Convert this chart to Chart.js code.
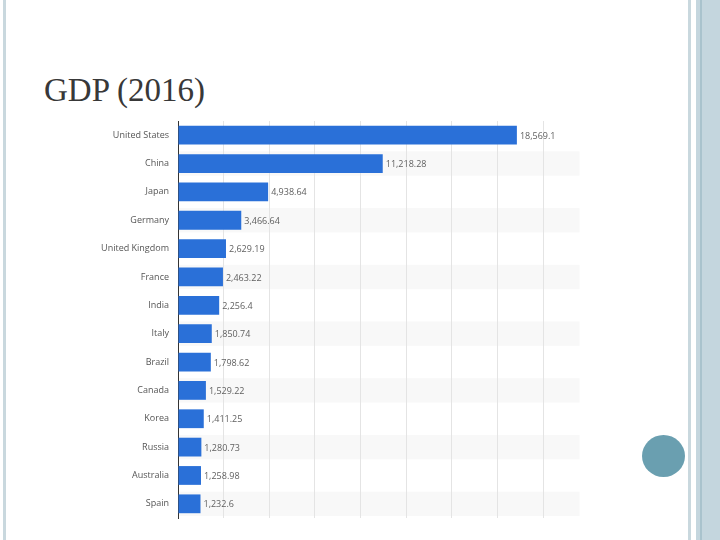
<!DOCTYPE html>
<html>
<head>
<meta charset="utf-8">
<script src="https://cdn.jsdelivr.net/npm/chart.js@4/dist/chart.umd.min.js"></script>
<style>
  body { margin: 0; background: #fff; }
  #slide { position: relative; width: 720px; height: 540px; overflow: hidden; background: #fff; }
  #chartBox { position: absolute; left: 0; top: 0; width: 720px; height: 540px; }
  .title { position: absolute; left: 44px; top: 74px; line-height: 1; font-family: "Liberation Serif", "Times New Roman", serif; font-size: 33px; color: #383838; }
  .leftLine { position: absolute; left: 3px; top: 0; width: 3px; height: 540px; background: #c9d8de; }
  .rightThin { position: absolute; left: 688px; top: 0; width: 3px; height: 540px; background: #c9d8de; }
  .rightBand { position: absolute; left: 696px; top: 0; width: 24px; height: 540px; background: #c4d6de; }
  .rightDark { position: absolute; left: 700px; top: 0; width: 2px; height: 540px; background: #a9c3cd; }
  .dot { position: absolute; left: 642px; top: 435px; width: 43px; height: 42px; border-radius: 50%; background: #6a9fb0; }
</style>
</head>
<body>
<div id="slide">
  <div class="leftLine"></div>
  <div class="rightThin"></div>
  <div class="rightBand"></div>
  <div class="rightDark"></div>
  <div class="dot"></div>
  <div class="title">GDP (2016)</div>
  <div id="chartBox"><canvas id="gdpChart"></canvas></div>
</div>
<script>
var countries = ['United States', 'China', 'Japan', 'Germany', 'United Kingdom', 'France', 'India',
  'Italy', 'Brazil', 'Canada', 'Korea', 'Russia', 'Australia', 'Spain'];
var gdp = [18569.1, 11218.28, 4938.64, 3466.64, 2629.19, 2463.22, 2256.4,
  1850.74, 1798.62, 1529.22, 1411.25, 1280.73, 1258.98, 1232.6];

// striped rows behind every other category, running a bit past the last gridline
var rowBands = {
  id: 'rowBands',
  beforeDraw: function(chart) {
    var ctx = chart.ctx, y = chart.scales.y, x = chart.scales.x;
    var step = y.getPixelForValue(1) - y.getPixelForValue(0);
    var left = x.getPixelForValue(0), right = x.getPixelForValue(22000);
    ctx.save();
    ctx.fillStyle = '#f8f8f8';
    for (var i = 1; i < countries.length; i += 2) {
      var c = y.getPixelForValue(i);
      ctx.fillRect(left, c - step / 2 + 2, right - left, step - 4);
    }
    ctx.restore();
  }
};

var valueLabels = {
  id: 'valueLabels',
  afterDatasetsDraw: function(chart) {
    var ctx = chart.ctx;
    ctx.save();
    ctx.font = '9px "Open Sans", sans-serif';
    ctx.fillStyle = '#606060';
    ctx.textBaseline = 'middle';
    chart.getDatasetMeta(0).data.forEach(function(bar, i) {
      var txt = gdp[i].toLocaleString('en-US', { maximumFractionDigits: 2 });
      ctx.fillText(txt, bar.x + 3, bar.y + 1);
    });
    ctx.restore();
  }
};

new Chart(document.getElementById('gdpChart'), {
  type: 'bar',
  data: {
    labels: countries,
    datasets: [{
      data: gdp,
      backgroundColor: '#2a70d8',
      barPercentage: 0.72,
      categoryPercentage: 0.92
    }]
  },
  options: {
    indexAxis: 'y',
    responsive: true,
    maintainAspectRatio: false,
    animation: false,
    layout: { padding: { top: 121, bottom: 22, right: 177, left: 0 } },
    plugins: { legend: { display: false }, tooltip: { enabled: false } },
    scales: {
      x: {
        min: 0,
        max: 20000,
        ticks: { display: false, stepSize: 2500 },
        grid: { drawTicks: false, color: '#e4e4e4' },
        border: { display: false }
      },
      y: {
        afterFit: function(scale) { scale.width = 178; },
        ticks: {
          color: '#555',
          padding: 9,
          font: { family: '"Open Sans", sans-serif', size: 9 }
        },
        grid: { display: false, drawTicks: false, tickLength: 0 },
        border: { display: true, color: '#333', width: 1 }
      }
    }
  },
  plugins: [rowBands, valueLabels]
});
</script>
</body>
</html>
